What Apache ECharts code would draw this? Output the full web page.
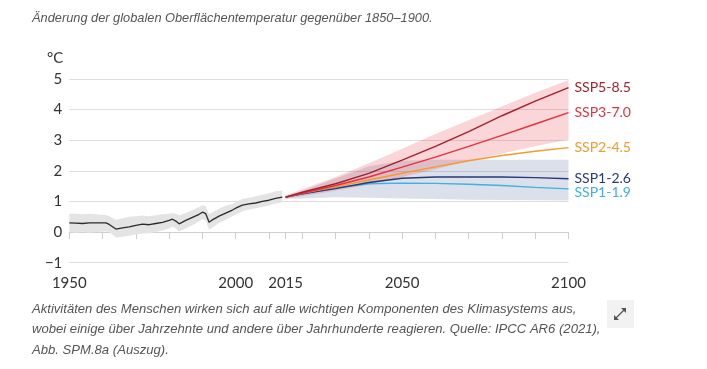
<!DOCTYPE html>
<html>
<head>
<meta charset="utf-8">
<script src="https://cdn.jsdelivr.net/npm/echarts@6/dist/echarts.min.js"></script>
<style>
html,body{margin:0;padding:0;background:#fff;}
#chart{width:707px;height:369px;}
</style>
</head>
<body>
<div id="chart"></div>
<script>
// ---- Data ----
var histYears = [1950,1952,1954,1956,1958,1961,1962,1964,1966,1968,1970,1972,1974,1976,1978,1980,1981,1982,1983,1985,1987,1989,1990,1991,1992,1993,1995,1997,1999,2000,2002,2004,2006,2008,2010,2012,2014];
var histMean  = [0.30,0.29,0.28,0.30,0.30,0.30,0.25,0.10,0.14,0.17,0.22,0.26,0.24,0.28,0.32,0.38,0.42,0.36,0.27,0.38,0.48,0.58,0.65,0.60,0.32,0.40,0.52,0.62,0.72,0.78,0.88,0.92,0.95,1.00,1.04,1.10,1.14];
var histHigh  = [0.60,0.60,0.58,0.60,0.58,0.56,0.52,0.40,0.45,0.50,0.52,0.54,0.52,0.55,0.58,0.60,0.62,0.60,0.55,0.62,0.72,0.82,0.88,0.85,0.58,0.65,0.76,0.86,0.92,0.98,1.08,1.12,1.17,1.22,1.27,1.33,1.35];
var histLow   = [0.00,-0.02,0.00,-0.02,0.00,0.02,0.00,-0.18,-0.15,-0.12,-0.08,-0.05,-0.04,0.00,0.05,0.12,0.18,0.12,0.02,0.12,0.22,0.35,0.42,0.38,0.08,0.15,0.30,0.40,0.52,0.57,0.68,0.74,0.78,0.82,0.87,0.93,0.97];

var projYears = [2015,2020,2030,2040,2050,2060,2070,2080,2090,2100];
var ssp585 = [1.14,1.30,1.58,1.92,2.35,2.80,3.28,3.80,4.28,4.72];
var ssp370 = [1.14,1.27,1.52,1.80,2.12,2.45,2.80,3.16,3.53,3.90];
var ssp245 = [1.14,1.27,1.48,1.70,1.92,2.13,2.33,2.50,2.64,2.76];
var ssp126 = [1.14,1.25,1.42,1.62,1.76,1.80,1.80,1.80,1.78,1.74];
var ssp119 = [1.14,1.24,1.45,1.58,1.60,1.59,1.56,1.52,1.46,1.41];
var highBandLow  = [1.10,1.17,1.35,1.55,1.80,2.05,2.32,2.57,2.80,3.02];
var highBandHigh = [1.20,1.40,1.80,2.25,2.72,3.20,3.65,4.10,4.55,4.97];
var lowBandLow   = [1.08,1.10,1.14,1.12,1.10,1.08,1.06,1.05,1.04,1.03];
var lowBandHigh  = [1.18,1.35,1.75,2.15,2.33,2.36,2.36,2.36,2.36,2.36];

var yTicks = [-1,0,1,2,3,4,5];
var xLabelValues = [1950,2000,2015,2050,2100];
var xTickValues = [1950,1960,1970,1980,1990,2000,2010,2015,2020,2030,2040,2050,2060,2070,2080,2090,2100];

var scenarioNames = ['SSP5-8.5','SSP3-7.0','SSP2-4.5','SSP1-2.6','SSP1-1.9'];
var scenarioValues = [ssp585, ssp370, ssp245, ssp126, ssp119];
var scenarioColors = ['#a3202c','#e8303c','#f59a2c','#26397a','#3fb1e3'];

// ---- Helpers ----
function zip(xs, ys){ return xs.map(function(x,i){ return [x, ys[i]]; }); }
function bandSeries(xs, lo, hi, color, z){
  return {
    type:'custom', z:z, silent:true, clip:true,
    data: xs.map(function(x,i){ return [x, lo[i], hi[i]]; }),
    encode:{x:0, y:[1,2]},
    renderItem:function(params, api){
      if (params.dataIndex !== 0) return null;
      var pts = [];
      for (var i=0;i<xs.length;i++) pts.push(api.coord([xs[i], hi[i]]));
      for (var j=xs.length-1;j>=0;j--) pts.push(api.coord([xs[j], lo[j]]));
      return {type:'polygon', shape:{points:pts}, style:{fill:color}};
    }
  };
}

var series = [];
series.push(bandSeries(histYears, histLow, histHigh, '#e4e4e4', 1));
series.push(bandSeries(projYears, lowBandLow, lowBandHigh, 'rgba(40,60,124,0.16)', 1));
series.push(bandSeries(projYears, highBandLow, highBandHigh, 'rgba(232,48,60,0.2)', 2));
series.push({
  type:'line', name:'hist', data: zip(histYears, histMean), symbol:'none', z:5, silent:true,
  lineStyle:{color:'#2b2b2b', width:1.3}
});
var labelOffsets = [[0,0],[0,0],[0,0],[0,0],[0,4]];
for (var k=scenarioNames.length-1;k>=0;k--){
  series.push({
    type:'line', name:scenarioNames[k], data: zip(projYears, scenarioValues[k]), symbol:'none', z:5+(5-k), silent:true,
    lineStyle:{color:scenarioColors[k], width:1.4},
    endLabel:{show:true, formatter:scenarioNames[k], color:scenarioColors[k], fontFamily:'Lato', fontSize:14, distance:6, offset:labelOffsets[k]}
  });
}

var chart = echarts.init(document.getElementById('chart'), null, {renderer:'canvas'});
chart.setOption({
  animation:false,
  backgroundColor:'#fff',
  grid:{left:69.3, right:138.5, top:79, bottom:106.3, containLabel:false},
  xAxis:{
    type:'value', min:1950, max:2100, interval:5,
    axisLine:{show:true, lineStyle:{color:'#cfcfcf', width:1}},
    axisTick:{show:true, length:7, lineStyle:{color:'#cfcfcf'}, customValues:xTickValues},
    axisLabel:{customValues:xLabelValues, color:'#333', fontFamily:'Lato', fontSize:15, margin:13,
      formatter:function(v){ return String(v); }},
    splitLine:{show:false}
  },
  yAxis:{
    type:'value', min:-1, max:5, interval:1,
    axisLine:{show:false}, axisTick:{show:false},
    axisLabel:{color:'#333', fontFamily:'Lato', fontSize:15, margin:7,
      formatter:function(v){ return String(v).replace('-', '\u2212'); }},
    splitLine:{show:true, lineStyle:{color:'#dedede', width:1}}
  },
  graphic:[
    {type:'text', left:32, top:12, style:{text:'\u00c4nderung der globalen Oberfl\u00e4chentemperatur gegen\u00fcber 1850\u20131900.', font:'italic 12.8px "Liberation Sans", Arial, sans-serif', fill:'#555'}},
    {type:'text', left:47, top:51, style:{text:'\u00b0C', font:'15px Lato', fill:'#333'}},
    {type:'text', left:32, top:299, style:{text:'Aktivit\u00e4ten des Menschen wirken sich auf alle wichtigen Komponenten des Klimasystems aus,\nwobei einige \u00fcber Jahrzehnte und andere \u00fcber Jahrhunderte reagieren. Quelle: IPCC AR6 (2021),\nAbb. SPM.8a (Auszug).', font:'italic 13.1px "Liberation Sans", Arial, sans-serif', fill:'#555', lineHeight:20.5}},
    {type:'rect', left:607, top:300, shape:{width:27, height:28}, style:{fill:'#f2f2f2'}},
    {type:'polyline', shape:{points:[[616,318],[624,310]]}, style:{stroke:'#555', lineWidth:1.3}},
    {type:'polygon', shape:{points:[[626,308],[621,308],[626,313]]}, style:{fill:'#555'}},
    {type:'polygon', shape:{points:[[614,320],[619,320],[614,315]]}, style:{fill:'#555'}}
  ],
  series:series
});
</script>
</body>
</html>
